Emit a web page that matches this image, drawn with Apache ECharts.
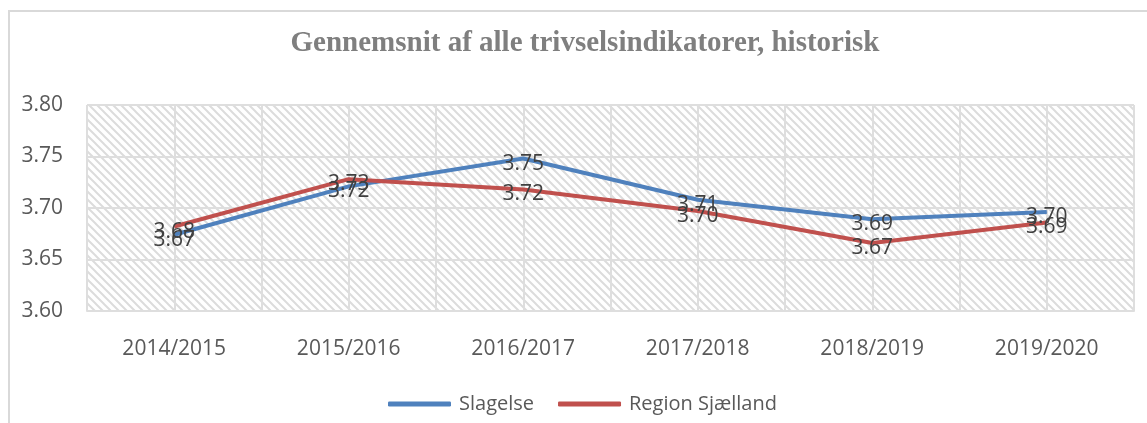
<!DOCTYPE html>
<html>
<head>
<meta charset="utf-8">
<script src="https://cdn.jsdelivr.net/npm/echarts@6/dist/echarts.min.js"></script>
<style>
html, body { margin: 0; padding: 0; background: #fff; }
#container { width: 1147px; height: 423px; }
</style>
</head>
<body>
<div id="container"></div>
<script>
var categories = ['2014/2015', '2015/2016', '2016/2017', '2017/2018', '2018/2019', '2019/2020'];
var slagelse = [3.674, 3.721, 3.748, 3.708, 3.689, 3.696];
var regionSjaelland = [3.682, 3.728, 3.718, 3.697, 3.666, 3.686];
var seriesNames = ['Slagelse', 'Region Sjælland'];
var titleText = 'Gennemsnit af alle trivselsindikatorer, historisk';

// skraveret baggrund i plotområdet
function hatchPattern() {
    var c = document.createElement('canvas');
    c.width = 8;
    c.height = 8;
    var ctx = c.getContext('2d');
    ctx.fillStyle = '#ffffff';
    ctx.fillRect(0, 0, 8, 8);
    ctx.strokeStyle = '#dcdcdc';
    ctx.lineWidth = 2;
    ctx.beginPath();
    ctx.moveTo(-2, -2); ctx.lineTo(10, 10);
    ctx.moveTo(-2, 6); ctx.lineTo(2, 10);
    ctx.moveTo(6, -2); ctx.lineTo(10, 2);
    ctx.stroke();
    return c;
}

var font = '"Open Sans", sans-serif';
var gridColor = '#dedede';

var labelOpt = {
    show: true,
    position: 'inside',
    offset: [0, 5],
    color: '#404040',
    fontSize: 21,
    fontFamily: font,
    formatter: function (p) { return p.value.toFixed(2); }
};

var dom = document.getElementById('container');
var myChart = echarts.init(dom);
var option = {
    backgroundColor: '#ffffff',
    animation: false,
    graphic: [
        {
            type: 'text',
            x: 585,
            y: 44,
            style: {
                text: titleText,
                x: 0, y: 0,
                textAlign: 'center',
                textVerticalAlign: 'middle',
                fill: '#7f7f7f',
                font: 'bold 29px "Liberation Serif", serif'
            }
        },
        { type: 'line', shape: { x1: 8, y1: 11, x2: 1147, y2: 11 }, style: { stroke: '#d9d9d9', lineWidth: 2 } },
        { type: 'line', shape: { x1: 9, y1: 11, x2: 9, y2: 423 }, style: { stroke: '#d9d9d9', lineWidth: 2 } }
    ],
    legend: {
        left: 383,
        top: 389,
        icon: 'roundRect',
        itemWidth: 63,
        itemHeight: 5,
        itemGap: 24,
        textStyle: { color: '#595959', fontSize: 20, fontFamily: font, padding: [0, 0, 0, 3] },
        data: seriesNames
    },
    grid: {
        left: 87,
        right: 13,
        top: 105,
        bottom: 112,
        show: true,
        borderWidth: 0,
        backgroundColor: { image: hatchPattern(), repeat: 'repeat' }
    },
    xAxis: [
        {
            type: 'category',
            data: categories,
            boundaryGap: true,
            axisLine: { show: true, lineStyle: { color: gridColor, width: 2 } },
            axisTick: { show: false },
            splitLine: { show: false },
            axisLabel: { color: '#595959', fontSize: 21, fontFamily: font, margin: 28 }
        },
        {
            // hjælpeakse kun til de lodrette gitterlinjer
            type: 'value',
            min: 0,
            max: 12,
            interval: 1,
            position: 'top',
            axisLine: { show: false },
            axisTick: { show: false },
            axisLabel: { show: false },
            splitLine: { show: true, lineStyle: { color: gridColor, width: 2 } }
        }
    ],
    yAxis: {
        type: 'value',
        min: 3.6,
        max: 3.8,
        interval: 0.05,
        axisLine: { show: false },
        axisTick: { show: false },
        splitLine: { show: true, lineStyle: { color: gridColor, width: 2 } },
        axisLabel: {
            color: '#595959',
            fontSize: 21,
            fontFamily: font,
            margin: 24,
            formatter: function (v) { return v.toFixed(2); }
        }
    },
    series: [
        {
            name: seriesNames[0],
            type: 'line',
            xAxisIndex: 0,
            data: slagelse,
            color: '#4f81bd',
            symbol: 'circle',
            symbolSize: 1,
            lineStyle: { width: 4, color: '#4f81bd' },
            label: labelOpt
        },
        {
            name: seriesNames[1],
            type: 'line',
            xAxisIndex: 0,
            data: regionSjaelland,
            color: '#c0504d',
            symbol: 'circle',
            symbolSize: 1,
            lineStyle: { width: 4, color: '#c0504d' },
            label: labelOpt
        }
    ]
};

if (option && typeof option === 'object') {
    myChart.setOption(option, true);
}
</script>
</body>
</html>
